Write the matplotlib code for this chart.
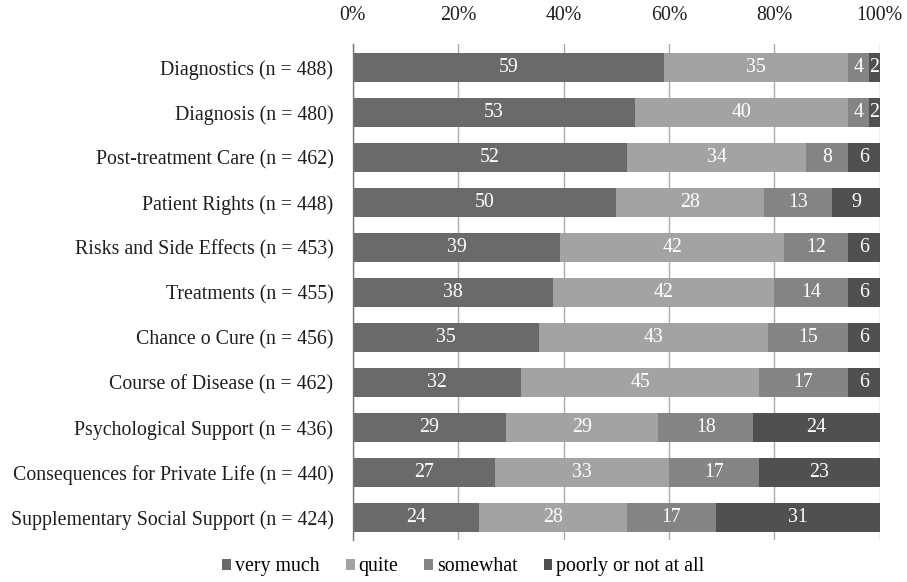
import numpy as np
import matplotlib.pyplot as plt
from matplotlib.patches import Patch

plt.rcParams['font.family'] = ['Liberation Serif', 'DejaVu Serif']

topics = [
    'Diagnostics (n = 488)',
    'Diagnosis (n = 480)',
    'Post-treatment Care (n = 462)',
    'Patient Rights (n = 448)',
    'Risks and Side Effects (n = 453)',
    'Treatments (n = 455)',
    'Chance o Cure (n = 456)',
    'Course of Disease (n = 462)',
    'Psychological Support (n = 436)',
    'Consequences for Private Life (n = 440)',
    'Supplementary Social Support (n = 424)',
]
very_much = [59, 53, 52, 50, 39, 38, 35, 32, 29, 27, 24]
quite = [35, 40, 34, 28, 42, 42, 43, 45, 29, 33, 28]
somewhat = [4, 4, 8, 13, 12, 14, 15, 17, 18, 17, 17]
poorly = [2, 2, 6, 9, 6, 6, 6, 6, 24, 23, 31]

series = ['very much', 'quite', 'somewhat', 'poorly or not at all']
colors = ['#6a6a6a', '#a3a3a3', '#848484', '#505050']

data = np.array([very_much, quite, somewhat, poorly], dtype=float)
shares = data / data.sum(axis=0) * 100  # 100% stacked

fs = 14.3
fig = plt.figure(figsize=(9.07, 5.82), dpi=100)
ax = fig.add_axes([0.389, 0.072, 0.581, 0.8524])

y = np.arange(len(topics))
left = np.zeros(len(topics))
for vals, pct, col in zip(data, shares, colors):
    ax.barh(y, pct, left=left, height=0.66, color=col, zorder=2)
    for yi, l, w, v in zip(y, left, pct, vals):
        ax.text(l + w / 2, yi, f'{int(v)}', ha='center', va='center',
                color='white', fontsize=fs, zorder=3)
    left += pct

ax.set_xlim(0, 100)
ax.set_ylim(len(topics) - 0.5, -0.52)
ax.set_yticks(y)
ax.set_yticklabels(topics, fontsize=fs, color='#1e1e1e')
ax.set_xticks(np.arange(0, 101, 20))
ax.set_xticklabels([f'{t}%' for t in range(0, 101, 20)], fontsize=fs, color='#1e1e1e')
ax.xaxis.tick_top()
ax.tick_params(axis='x', length=0, pad=14)
ax.tick_params(axis='y', length=0, pad=14)
ax.xaxis.grid(True, color='#ababab', linewidth=1.0, zorder=0)
ax.set_axisbelow(True)
for s in ['top', 'right', 'bottom']:
    ax.spines[s].set_visible(False)
ax.spines['left'].set_color('#777777')
ax.spines['left'].set_linewidth(1.0)

handles = [Patch(facecolor=c, label=s) for s, c in zip(series, colors)]
fig.legend(handles=handles, loc='center', bbox_to_anchor=(0.511, 0.026), ncol=4,
           frameon=False, fontsize=fs, handlelength=0.45, handleheight=0.45,
           handletextpad=0.2, columnspacing=1.3)

fig.savefig('out.png', dpi=100)
